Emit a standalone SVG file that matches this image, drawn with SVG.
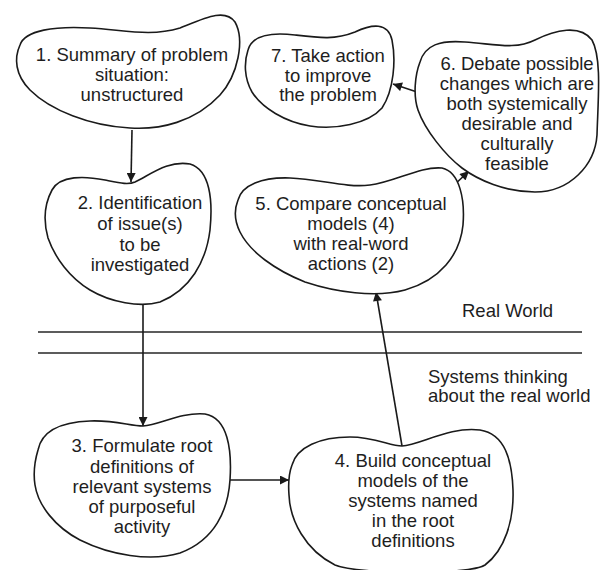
<svg xmlns="http://www.w3.org/2000/svg" width="600" height="570" viewBox="0 0 600 570">
  <style>
    .blob { fill: #fff; stroke: #1a1a1a; stroke-width: 1.6; stroke-linejoin: round; }
    .lbl { font-family: "Liberation Sans", Arial, sans-serif; font-size: 18.5px; fill: #1e1e1e; text-anchor: middle; }
    .side { font-family: "Liberation Sans", Arial, sans-serif; font-size: 18.5px; fill: #1e1e1e; }
    .edge { fill: none; stroke: #1a1a1a; stroke-width: 1.6; marker-end: url(#head); }
    .divider { stroke: #262626; stroke-width: 1.4; }
  </style>
  <defs>
    <marker id="head" viewBox="0 0 10 10" refX="10" refY="5" markerWidth="10" markerHeight="9" markerUnits="userSpaceOnUse" orient="auto">
      <path d="M0,0 L10,5 L0,10 Z" fill="#1a1a1a"/>
    </marker>
  </defs>
  <rect width="600" height="570" fill="#fff"/>

  <!-- boundary between the real world and systems thinking -->
  <g id="boundary">
    <line class="divider" x1="38" y1="332" x2="582" y2="332"/>
    <line class="divider" x1="38" y1="353" x2="582" y2="353"/>
    <text class="side" x="462" y="317">Real World</text>
    <text class="side" x="428" y="383">Systems thinking</text>
    <text class="side" x="428" y="402">about the real world</text>
  </g>

  <g id="connectors">
    <path class="edge" d="M132,130 L131,182"/>
    <path class="edge" d="M143,305 L143,426"/>
    <path class="edge" d="M230,480 L289,480"/>
    <path class="edge" d="M402,446 L376,292"/>
    <path class="edge" d="M451,188 L469,171"/>
    <path class="edge" d="M417,92 L393,84"/>
  </g>

  <g id="step1">
    <path class="blob" d="M20,45 C25,30 55,26 90,28 C125,30 150,37 180,28 C205,18 225,8 235,22 C245,40 238,75 220,95 C195,122 160,130 130,128 C90,126 50,110 30,90 C15,75 14,58 20,45 Z"/>
    <text class="lbl" x="132" y="61">1. Summary of problem</text>
    <text class="lbl" x="132" y="81">situation:</text>
    <text class="lbl" x="132" y="101">unstructured</text>
  </g>

  <g id="step2">
    <path class="blob" d="M52,190 C60,175 85,176 105,180 C120,183 128,185 135,182 C150,175 168,160 190,164 C210,170 213,200 210,230 C206,262 190,290 160,302 C140,308 110,302 90,290 C70,278 55,258 48,238 C43,220 45,203 52,190 Z"/>
    <text class="lbl" x="140" y="209">2. Identification</text>
    <text class="lbl" x="140" y="230">of issue(s)</text>
    <text class="lbl" x="140" y="251">to be</text>
    <text class="lbl" x="140" y="271">investigated</text>
  </g>

  <g id="step3">
    <path class="blob" d="M38,450 C42,430 62,422 90,421 C115,420 130,426 143,426 C160,425 180,412 205,414 C228,418 232,450 230,480 C228,510 215,540 180,553 C150,562 110,555 80,540 C55,527 38,505 35,485 C33,472 35,460 38,450 Z"/>
    <text class="lbl" x="142" y="452">3. Formulate root</text>
    <text class="lbl" x="142" y="473">definitions of</text>
    <text class="lbl" x="142" y="493">relevant systems</text>
    <text class="lbl" x="142" y="513">of purposeful</text>
    <text class="lbl" x="142" y="533">activity</text>
  </g>

  <g id="step4">
    <path class="blob" d="M292,465 C297,447 320,437 350,437 C375,437 390,446 402,446 C420,445 450,426 480,430 C505,434 512,460 513,490 C514,520 505,550 485,565 C470,575 360,575 335,565 C305,550 290,520 289,495 C288,482 289,473 292,465 Z"/>
    <text class="lbl" x="413" y="467">4. Build conceptual</text>
    <text class="lbl" x="413" y="487">models of the</text>
    <text class="lbl" x="413" y="507">systems named</text>
    <text class="lbl" x="413" y="527">in the root</text>
    <text class="lbl" x="413" y="547">definitions</text>
  </g>

  <g id="step5">
    <path class="blob" d="M238,200 C242,185 262,177 290,178 C320,179 345,188 370,185 C395,182 420,166 442,168 C460,172 465,200 463,225 C460,255 440,280 405,290 C375,298 335,292 305,282 C275,270 250,252 240,232 C234,220 234,210 238,200 Z"/>
    <text class="lbl" x="351" y="210">5. Compare conceptual</text>
    <text class="lbl" x="351" y="230">models (4)</text>
    <text class="lbl" x="351" y="250">with real-word</text>
    <text class="lbl" x="351" y="270">actions (2)</text>
  </g>

  <g id="step6">
    <path class="blob" d="M420,62 C425,45 440,40 465,42 C495,44 515,50 535,40 C555,30 580,24 592,40 C602,58 598,100 597,135 C595,165 570,192 535,192 C505,192 478,180 462,168 C445,155 425,130 418,110 C413,95 415,75 420,62 Z"/>
    <text class="lbl" x="517" y="70">6. Debate possible</text>
    <text class="lbl" x="517" y="90">changes which are</text>
    <text class="lbl" x="517" y="110">both systemically</text>
    <text class="lbl" x="517" y="130">desirable and</text>
    <text class="lbl" x="517" y="150">culturally</text>
    <text class="lbl" x="517" y="170">feasible</text>
  </g>

  <g id="step7">
    <path class="blob" d="M248,50 C252,36 270,32 295,35 C320,38 335,40 355,32 C372,24 388,22 392,40 C396,60 394,90 382,108 C368,124 335,130 310,126 C285,122 262,108 252,92 C244,78 244,62 248,50 Z"/>
    <text class="lbl" x="328" y="62">7. Take action</text>
    <text class="lbl" x="328" y="82">to improve</text>
    <text class="lbl" x="328" y="101">the problem</text>
  </g>
</svg>
